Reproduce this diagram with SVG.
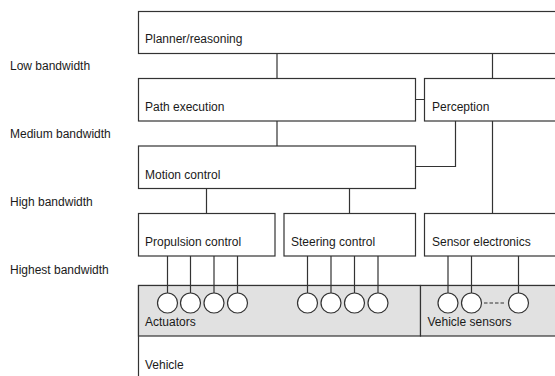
<svg xmlns="http://www.w3.org/2000/svg" width="555" height="376" viewBox="0 0 555 376">
<style>
.box{fill:#fff;stroke:#333;stroke-width:1.2}
.gray{fill:#e1e1e1;stroke:#333;stroke-width:1.2}
.ln{fill:none;stroke:#333;stroke-width:1.2}
.c{fill:#fff;stroke:#333;stroke-width:1.2}
text{font-family:"Liberation Sans",Arial,sans-serif;font-size:12px;fill:#1a1a1a}
</style>
<rect width="555" height="376" fill="#fff"/>
<g id="labels">
<text x="10" y="69.5">Low bandwidth</text>
<text x="10" y="137.5">Medium bandwidth</text>
<text x="10" y="205.5">High bandwidth</text>
<text x="10" y="274">Highest bandwidth</text>
</g>
<g id="vehicle">
<rect class="box" x="138.5" y="285.5" width="420" height="100"/>
<text x="145" y="369">Vehicle</text>
</g>
<g id="actuators">
<rect class="gray" x="138.5" y="285.5" width="282" height="50.5"/>
<text x="145" y="326">Actuators</text>
</g>
<g id="vehicle-sensors">
<rect class="gray" x="420.5" y="285.5" width="140" height="50.5"/>
<text x="427.5" y="326">Vehicle sensors</text>
</g>
<g id="planner">
<rect class="box" x="138.5" y="11.5" width="420" height="42"/>
<text x="145" y="43">Planner/reasoning</text>
</g>
<g id="path-execution">
<rect class="box" x="138.5" y="78.5" width="277" height="42.5"/>
<text x="145" y="111">Path execution</text>
</g>
<g id="perception">
<rect class="box" x="424.5" y="78.5" width="140" height="42.5"/>
<text x="432" y="111">Perception</text>
</g>
<g id="motion-control">
<rect class="box" x="138.5" y="146" width="277" height="42.5"/>
<text x="145" y="178.5">Motion control</text>
</g>
<g id="propulsion-control">
<rect class="box" x="138.5" y="213.5" width="136.5" height="42.5"/>
<text x="145" y="246">Propulsion control</text>
</g>
<g id="steering-control">
<rect class="box" x="284" y="213.5" width="131.5" height="42.5"/>
<text x="291" y="246">Steering control</text>
</g>
<g id="sensor-electronics">
<rect class="box" x="424.5" y="213.5" width="140" height="42.5"/>
<text x="432" y="246">Sensor electronics</text>
</g>
<g id="connectors">
<path class="ln" d="M277 53.5V78.5M492.5 53.5V78.5M415.5 99.5H424.5M277 121V146M455.5 121V166.5H415.5M492.5 121V213.5M206.5 188.5V213.5M349.5 188.5V213.5"/>
<path class="ln" d="M167.5 256V293M190.5 256V293M214 256V293M237.5 256V293M307.5 256V293M331 256V293M354.5 256V293M378 256V293M448 256V293M471.5 256V293M518.5 256V293"/>
<path class="ln" d="M484 303H504" stroke-dasharray="3.5 2"/>
</g>
<g id="sensors">
<circle class="c" cx="167.5" cy="303" r="10"/>
<circle class="c" cx="190.5" cy="303" r="10"/>
<circle class="c" cx="214" cy="303" r="10"/>
<circle class="c" cx="237.5" cy="303" r="10"/>
<circle class="c" cx="307.5" cy="303" r="10"/>
<circle class="c" cx="331" cy="303" r="10"/>
<circle class="c" cx="354.5" cy="303" r="10"/>
<circle class="c" cx="378" cy="303" r="10"/>
<circle class="c" cx="448" cy="303" r="10"/>
<circle class="c" cx="471.5" cy="303" r="10"/>
<circle class="c" cx="518.5" cy="303" r="10"/>
</g>
</svg>
